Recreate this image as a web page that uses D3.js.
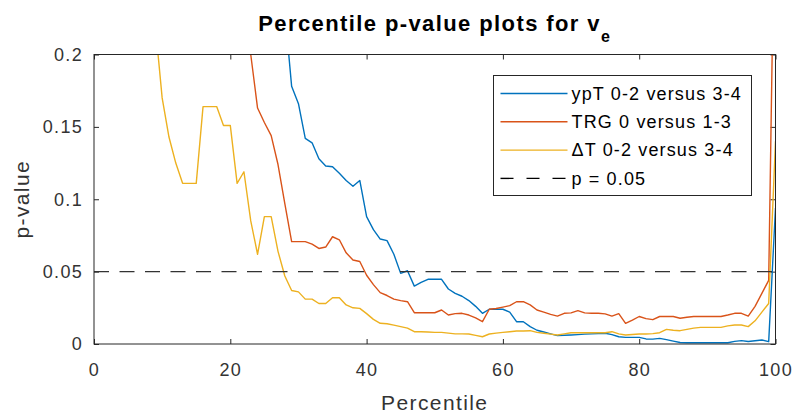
<!DOCTYPE html>
<html>
<head>
<meta charset="utf-8">
<script src="https://cdn.jsdelivr.net/npm/d3@7"></script>
<style>
  body { margin: 0; background: #fff; }
  text { font-family: "Liberation Sans", Arial, sans-serif; }
</style>
</head>
<body>
<div id="chart"></div>
<script>
// percentiles 0..100
const percentiles = d3.range(0, 101);

// ypT 0-2 versus 3-4
const ypT = [
  0.95, 0.93, 0.9, 0.88, 0.85, 0.82, 0.8, 0.77, 0.74, 0.7,
  0.66, 0.62, 0.58, 0.54, 0.5, 0.47, 0.44, 0.41, 0.39, 0.37,
  0.35, 0.33, 0.31, 0.3, 0.29, 0.28, 0.27, 0.26, 0.23, 0.178,
  0.166, 0.142, 0.139, 0.128, 0.123, 0.1225, 0.118, 0.113, 0.109, 0.113,
  0.088, 0.079, 0.0725, 0.0714, 0.062, 0.0488, 0.0506, 0.04, 0.0425, 0.0447,
  0.0447, 0.0447, 0.038, 0.035, 0.033, 0.03, 0.026, 0.0212, 0.024, 0.024,
  0.024, 0.022, 0.0154, 0.0154, 0.012, 0.0095, 0.0083, 0.007, 0.0058, 0.006,
  0.0062, 0.0065, 0.0068, 0.007, 0.0072, 0.0074, 0.0065, 0.005, 0.0046, 0.0046,
  0.0046, 0.0035, 0.0034, 0.0039, 0.003, 0.002, 0.001, 0.0009, 0.0009, 0.0009,
  0.0009, 0.0009, 0.0009, 0.0009, 0.0018, 0.0023, 0.0017, 0.0022, 0.0028, 0.0016,
  0.094
];

// TRG 0 versus 1-3
const trg = [
  0.95, 0.93, 0.9, 0.87, 0.84, 0.8, 0.77, 0.74, 0.7, 0.66,
  0.62, 0.58, 0.54, 0.5, 0.47, 0.44, 0.41, 0.38, 0.35, 0.32,
  0.3, 0.28, 0.24, 0.2, 0.163, 0.153, 0.144, 0.124, 0.097, 0.0707,
  0.0707, 0.0707, 0.069, 0.066, 0.067, 0.0741, 0.072, 0.063, 0.058, 0.057,
  0.0475, 0.041, 0.0355, 0.0335, 0.031, 0.03, 0.0292, 0.0216, 0.0216, 0.0216,
  0.0216, 0.0235, 0.02, 0.021, 0.0212, 0.02, 0.018, 0.0154, 0.024, 0.0245,
  0.0255, 0.0265, 0.0292, 0.0292, 0.027, 0.0235, 0.022, 0.0205, 0.0193, 0.0212,
  0.0215, 0.023, 0.0215, 0.0212, 0.0212, 0.0208, 0.0193, 0.021, 0.0143, 0.0165,
  0.019, 0.0175, 0.0168, 0.019, 0.019, 0.019, 0.0178, 0.0185, 0.019, 0.019,
  0.019, 0.019, 0.019, 0.02, 0.0212, 0.0212, 0.0193, 0.026, 0.035, 0.044,
  0.35
];

// ΔT 0-2 versus 3-4
const deltaT = [
  0.9, 0.85, 0.8, 0.7, 0.6, 0.5, 0.42, 0.35, 0.28, 0.22,
  0.17, 0.143, 0.125, 0.111, 0.111, 0.111, 0.164, 0.164, 0.164, 0.151,
  0.151, 0.111, 0.119, 0.085, 0.062, 0.088, 0.088, 0.064, 0.047, 0.037,
  0.036, 0.031, 0.031, 0.028, 0.028, 0.032, 0.032, 0.027, 0.025, 0.0246,
  0.021, 0.017, 0.0143, 0.014, 0.013, 0.012, 0.011, 0.0085, 0.0085, 0.0083,
  0.008, 0.008, 0.0075, 0.007, 0.007, 0.0069, 0.006, 0.005, 0.0069, 0.0075,
  0.008, 0.0085, 0.009, 0.009, 0.0092, 0.008, 0.0074, 0.0068, 0.0062, 0.007,
  0.0078, 0.0078, 0.0078, 0.0078, 0.0078, 0.0078, 0.0085, 0.007, 0.0062, 0.0066,
  0.0069, 0.0069, 0.0072, 0.0078, 0.0101, 0.0095, 0.0092, 0.0101, 0.011, 0.0115,
  0.0115, 0.0115, 0.0115, 0.0125, 0.0131, 0.0131, 0.012, 0.016, 0.022, 0.028,
  0.14
];

const threshold = 0.05;
const xTicks = [0, 20, 40, 60, 80, 100];
const yTicks = [0, 0.05, 0.1, 0.15, 0.2];

const series = [
  { name: "ypT 0-2 versus 3-4", values: ypT, color: "#0072BD" },
  { name: "TRG 0 versus 1-3", values: trg, color: "#D95319" },
  { name: "\u0394T 0-2 versus 3-4", values: deltaT, color: "#EDB120" }
];

const width = 792, height = 416;
const margin = { top: 54.5, right: 16.5, bottom: 72, left: 94 };
const innerW = width - margin.left - margin.right;
const innerH = height - margin.top - margin.bottom;
const axisColor = "#262626";
const labelColor = "#333";

const svg = d3.select("#chart").append("svg")
  .attr("width", width)
  .attr("height", height);

const x = d3.scaleLinear().domain([0, 100]).range([margin.left, margin.left + innerW]);
const y = d3.scaleLinear().domain([0, 0.2]).range([margin.top + innerH, margin.top]);

svg.append("clipPath").attr("id", "plot-clip")
  .append("rect")
  .attr("x", margin.left).attr("y", margin.top)
  .attr("width", innerW).attr("height", innerH);

// axes (ticks inside, mirrored on top/right)
const fmtY = d => d === 0 ? "0" : String(d);
const tickText = g => g.selectAll("text")
  .attr("fill", labelColor)
  .style("font-size", "18px")
  .style("letter-spacing", "1.3px");

svg.append("g")
  .attr("transform", `translate(0,${margin.top + innerH})`)
  .call(d3.axisBottom(x).tickValues(xTicks).tickSizeInner(-5).tickSizeOuter(0).tickPadding(19))
  .call(g => g.select(".domain").remove())
  .call(g => g.selectAll("line").attr("stroke", axisColor))
  .call(tickText);

svg.append("g")
  .attr("transform", `translate(0,${margin.top})`)
  .call(d3.axisTop(x).tickValues(xTicks).tickSizeInner(-5).tickSizeOuter(0).tickFormat(""))
  .call(g => g.select(".domain").remove())
  .call(g => g.selectAll("line").attr("stroke", axisColor));

svg.append("g")
  .attr("transform", `translate(${margin.left},0)`)
  .call(d3.axisLeft(y).tickValues(yTicks).tickFormat(fmtY).tickSizeInner(-5).tickSizeOuter(0).tickPadding(11))
  .call(g => g.select(".domain").remove())
  .call(g => g.selectAll("line").attr("stroke", axisColor))
  .call(tickText);

svg.append("g")
  .attr("transform", `translate(${margin.left + innerW},0)`)
  .call(d3.axisRight(y).tickValues(yTicks).tickSizeInner(-5).tickSizeOuter(0).tickFormat(""))
  .call(g => g.select(".domain").remove())
  .call(g => g.selectAll("line").attr("stroke", axisColor));

// data lines
const line = d3.line()
  .x((d, i) => x(percentiles[i]))
  .y(d => y(d));

const plot = svg.append("g").attr("clip-path", "url(#plot-clip)");

plot.selectAll("path.series")
  .data(series)
  .join("path")
  .attr("class", "series")
  .attr("fill", "none")
  .attr("stroke", d => d.color)
  .attr("stroke-width", 1.4)
  .attr("stroke-linejoin", "round")
  .attr("d", d => line(d.values));

plot.append("line")
  .attr("x1", x(0)).attr("x2", x(100))
  .attr("y1", y(threshold)).attr("y2", y(threshold))
  .attr("stroke", "#333")
  .attr("stroke-width", 1.4)
  .attr("stroke-dasharray", "15,10.5");

// box
svg.append("rect")
  .attr("x", margin.left).attr("y", margin.top)
  .attr("width", innerW).attr("height", innerH)
  .attr("fill", "none")
  .attr("stroke", axisColor)
  .attr("stroke-width", 1);

// title
const title = svg.append("text")
  .attr("x", margin.left + innerW / 2)
  .attr("y", 31)
  .attr("text-anchor", "middle")
  .attr("fill", "#000")
  .style("font-size", "22px")
  .style("font-weight", "bold")
  .style("letter-spacing", "1.4px");
title.append("tspan").text("Percentile p-value plots for v");
title.append("tspan").attr("dy", 11).style("font-size", "16px").text("e");

// axis labels
svg.append("text")
  .attr("x", margin.left + innerW / 2)
  .attr("y", 410)
  .attr("text-anchor", "middle")
  .attr("fill", labelColor)
  .style("font-size", "21px")
  .style("letter-spacing", "1.4px")
  .text("Percentile");

svg.append("text")
  .attr("transform", `translate(28.5,${margin.top + innerH / 2}) rotate(-90)`)
  .attr("text-anchor", "middle")
  .attr("fill", labelColor)
  .style("font-size", "21px")
  .style("letter-spacing", "1.4px")
  .text("p-value");

// legend
const legendItems = series.map(s => ({ name: s.name, color: s.color, dash: null }))
  .concat([{ name: "p = " + threshold.toFixed(2), color: "#000", dash: "13,13" }]);

const legend = svg.append("g").attr("transform", "translate(493.5,75.5)");
legend.append("rect")
  .attr("width", 258).attr("height", 120)
  .attr("fill", "#fff")
  .attr("stroke", axisColor)
  .attr("stroke-width", 1);

const rows = legend.selectAll("g.row")
  .data(legendItems)
  .join("g")
  .attr("class", "row")
  .attr("transform", (d, i) => `translate(0,${18 + i * 28.3})`);

rows.append("line")
  .attr("x1", 7).attr("x2", 74)
  .attr("stroke", d => d.color)
  .attr("stroke-width", 1.4)
  .attr("stroke-dasharray", d => d.dash);

rows.append("text")
  .attr("x", 78)
  .attr("dy", "0.35em")
  .attr("fill", "#000")
  .style("font-size", "18px")
  .style("letter-spacing", "1.15px")
  .text(d => d.name);
</script>
</body>
</html>
